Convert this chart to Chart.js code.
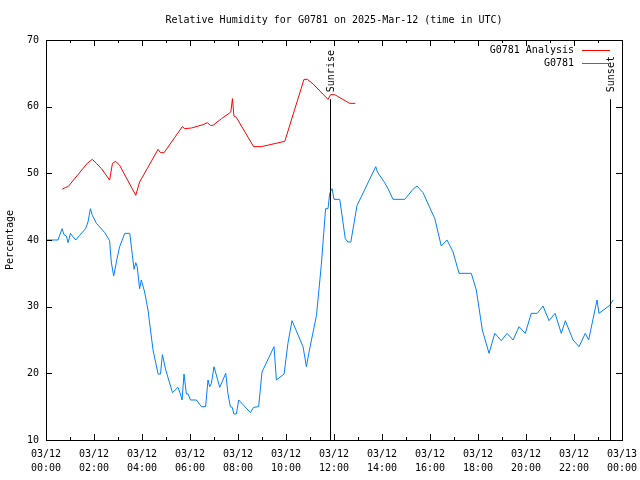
<!DOCTYPE html>
<html>
<head>
<meta charset="utf-8">
<script src="https://cdn.jsdelivr.net/npm/chart.js@4.4.0/dist/chart.umd.min.js"></script>
<style>
  html, body { margin: 0; padding: 0; background: #fff; }
  #wrap { width: 640px; height: 480px; }
</style>
</head>
<body>
<div id="wrap"><canvas id="c" width="640" height="480"></canvas></div>
<script>
// ── Datos (horas UTC decimales, humedad %) ─────────────────────
const analysisHours  = [0.67, 0.82, 0.92, 1.72, 1.93, 2.10, 2.31, 2.65, 2.77, 2.90, 3.07, 3.74, 3.90, 4.67, 4.77, 4.92,
                        5.68, 5.78, 6.06, 6.54, 6.72, 6.85, 6.96, 7.31, 7.63, 7.70, 7.77, 7.83, 7.93, 8.65, 8.97, 9.95,
                        10.75, 10.89, 11.13, 11.75, 11.86, 12.03, 12.65, 12.89];
const analysisValues = [47.6, 47.9, 48.0, 51.5, 52.1, 51.5, 50.7, 49.0, 51.5, 51.8, 51.2, 46.7, 48.7, 53.6, 53.1, 53.1,
                        57.0, 56.7, 56.8, 57.3, 57.6, 57.2, 57.2, 58.2, 59.0, 59.2, 61.2, 58.6, 58.4, 54.0, 54.0, 54.8,
                        64.1, 64.1, 63.4, 61.1, 61.8, 61.8, 60.5, 60.5];

const stationHours  = [0.00, 0.50, 0.67, 0.75, 0.85, 0.92, 1.02, 1.10, 1.24, 1.40, 1.65, 1.75, 1.85, 1.93, 2.10, 2.45,
                       2.65, 2.72, 2.82, 2.96, 3.07, 3.28, 3.49, 3.60, 3.67, 3.74, 3.80, 3.90, 3.97, 4.11, 4.25, 4.46,
                       4.67, 4.77, 4.85, 4.99, 5.27, 5.50, 5.60, 5.67, 5.75, 5.85, 5.92, 6.02, 6.27, 6.47, 6.65, 6.75,
                       6.82, 6.89, 7.00, 7.24, 7.49, 7.58, 7.68, 7.76, 7.83, 7.93, 8.03, 8.52, 8.65, 8.86, 9.00, 9.50,
                       9.60, 9.92, 10.08, 10.25, 10.71, 10.85, 10.96, 11.27, 11.47, 11.65, 11.75, 11.82, 11.92, 12.00, 12.24, 12.47,
                       12.58, 12.70, 12.96, 13.07, 13.74, 13.81, 14.11, 14.25, 14.46, 14.95, 15.29, 15.46, 15.71, 15.96, 16.20, 16.47,
                       16.71, 16.96, 17.21, 17.72, 17.93, 18.18, 18.46, 18.70, 18.97, 19.21, 19.46, 19.71, 19.97, 20.22, 20.47, 20.71,
                       20.96, 21.21, 21.47, 21.64, 21.96, 22.21, 22.47, 22.61, 22.96, 23.04, 23.49, 23.63];
const stationValues = [40.0, 40.0, 41.7, 40.8, 40.6, 39.6, 41.0, 40.6, 40.0, 40.7, 41.7, 42.7, 44.7, 43.7, 42.5, 41.1,
                       39.9, 36.7, 34.6, 37.2, 39.0, 41.0, 41.0, 37.7, 35.6, 36.6, 36.0, 32.7, 34.0, 32.2, 29.5, 23.5,
                       19.9, 19.9, 22.8, 20.5, 17.1, 17.9, 16.9, 16.0, 19.9, 16.9, 16.9, 16.0, 16.0, 15.0, 15.0, 19.0,
                       18.0, 18.5, 21.0, 17.9, 20.0, 17.0, 15.0, 14.9, 13.9, 13.9, 16.0, 14.1, 14.9, 15.0, 20.2, 24.0,
                       19.0, 19.9, 24.5, 27.9, 24.0, 21.0, 23.2, 28.7, 36.2, 44.7, 44.7, 47.0, 47.7, 46.1, 46.1, 40.2,
                       39.7, 39.7, 45.2, 46.0, 51.0, 50.2, 48.6, 47.7, 46.1, 46.1, 47.6, 48.1, 47.1, 45.1, 43.2, 39.1,
                       40.0, 38.2, 35.0, 35.0, 32.5, 26.5, 23.0, 26.0, 24.9, 26.0, 25.0, 27.0, 26.0, 29.0, 29.0, 30.1,
                       27.9, 29.0, 26.0, 27.9, 25.0, 24.0, 26.0, 25.0, 31.0, 29.0, 30.2, 31.0];

const xTickHours = [0, 2, 4, 6, 8, 10, 12, 14, 16, 18, 20, 22, 24];
const xTickDates = ['03/12', '03/12', '03/12', '03/12', '03/12', '03/12', '03/12', '03/12', '03/12', '03/12', '03/12', '03/12', '03/13'];
const xTickTimes = ['00:00', '02:00', '04:00', '06:00', '08:00', '10:00', '12:00', '14:00', '16:00', '18:00', '20:00', '22:00', '00:00'];
const yTicks = [10, 20, 30, 40, 50, 60, 70];

const eventLabels = ['Sunrise', 'Sunset'];
const eventHours  = [11.83, 23.5];

const TITLE = 'Relative Humidity for G0781 on 2025-Mar-12 (time in UTC)';
const MONO = "'DejaVu Sans Mono', 'Liberation Mono', monospace";

// ── Plugin: marco, ticks internos, título, leyenda, amanecer/ocaso ──
const gnuplotDeco = {
  id: 'gnuplotDeco',
  afterDatasetsDraw(chart) {
    const ctx = chart.ctx, a = chart.chartArea;
    const xs = chart.scales.x, ys = chart.scales.y;
    ctx.save();
    ctx.strokeStyle = '#000';
    ctx.lineWidth = 1;
    // ticks
    ctx.beginPath();
    for (let h = 0; h <= 24; h++) {
      const px = Math.round(xs.getPixelForValue(h)) + 0.5;
      const len = (h % 2 === 0) ? 6 : 3;
      ctx.moveTo(px, a.bottom); ctx.lineTo(px, a.bottom - len);
      ctx.moveTo(px, a.top); ctx.lineTo(px, a.top + len);
    }
    yTicks.forEach(v => {
      const py = Math.round(ys.getPixelForValue(v)) + 0.5;
      ctx.moveTo(a.left, py); ctx.lineTo(a.left + 6, py);
      ctx.moveTo(a.right, py); ctx.lineTo(a.right - 6, py);
    });
    ctx.stroke();
    // marco
    ctx.strokeRect(Math.round(a.left) + 0.5, Math.round(a.top) + 0.5,
                   Math.round(a.right - a.left), Math.round(a.bottom - a.top));

    // amanecer / ocaso
    ctx.font = '10px ' + MONO;
    ctx.fillStyle = '#000';
    eventHours.forEach((h, i) => {
      const px = Math.round(xs.getPixelForValue(h)) + 0.5;
      const topY = a.top + (a.bottom - a.top) * 0.148;
      ctx.beginPath();
      ctx.moveTo(px, a.bottom); ctx.lineTo(px, topY);
      ctx.stroke();
      ctx.save();
      ctx.translate(px + 1, topY - 7);
      ctx.rotate(-Math.PI / 2);
      ctx.textAlign = 'left';
      ctx.textBaseline = 'middle';
      ctx.fillText(eventLabels[i], 0, 0);
      ctx.restore();
    });

    // leyenda
    ctx.textAlign = 'right';
    ctx.textBaseline = 'middle';
    chart.data.datasets.forEach((ds, i) => {
      const y = a.top + 10 + i * 13;
      ctx.fillStyle = '#000';
      ctx.fillText(ds.label, a.right - 48, y);
      ctx.strokeStyle = ds.borderColor;
      ctx.beginPath();
      ctx.moveTo(a.right - 40, Math.round(y) + 0.5);
      ctx.lineTo(a.right - 12, Math.round(y) + 0.5);
      ctx.stroke();
    });

    // título
    ctx.fillStyle = '#000';
    ctx.textAlign = 'center';
    ctx.fillText(TITLE, (a.left + a.right) / 2, 20);
    ctx.restore();
  }
};

new Chart(document.getElementById('c'), {
  type: 'line',
  data: {
    datasets: [
      {
        label: 'G0781 Analysis',
        data: analysisHours.map((h, i) => ({ x: h, y: analysisValues[i] })),
        borderColor: '#ff0000', borderWidth: 1, pointRadius: 0, tension: 0, fill: false
      },
      {
        label: 'G0781',
        data: stationHours.map((h, i) => ({ x: h, y: stationValues[i] })),
        borderColor: '#0080ff', borderWidth: 1, pointRadius: 0, tension: 0, fill: false
      }
    ]
  },
  options: {
    responsive: false,
    animation: false,
    layout: { padding: { top: 40, right: 18, left: 0, bottom: 0 } },
    plugins: { legend: { display: false }, title: { display: false }, tooltip: { enabled: false } },
    scales: {
      x: {
        type: 'linear', min: 0, max: 24,
        afterFit(s) { s.height = 40; s.paddingLeft = 0; s.paddingRight = 0; },
        afterBuildTicks(s) { s.ticks = xTickHours.map(v => ({ value: v })); },
        grid: { display: false, drawTicks: false },
        border: { display: false },
        ticks: {
          autoSkip: false, maxRotation: 0, padding: 8, color: '#000',
          font: { family: MONO, size: 10, lineHeight: 1.35 },
          callback(v) { const i = xTickHours.indexOf(v); return [xTickDates[i], xTickTimes[i]]; }
        }
      },
      y: {
        min: 10, max: 70,
        afterFit(s) { s.width = 46; },
        afterBuildTicks(s) { s.ticks = yTicks.map(v => ({ value: v })); },
        grid: { display: false, drawTicks: false },
        border: { display: false },
        ticks: { padding: 7, color: '#000', font: { family: MONO, size: 10 } },
        title: { display: true, text: 'Percentage', color: '#000', padding: { top: 4, bottom: 0 }, font: { family: MONO, size: 10 } }
      }
    }
  },
  plugins: [gnuplotDeco]
});
</script>
</body>
</html>
